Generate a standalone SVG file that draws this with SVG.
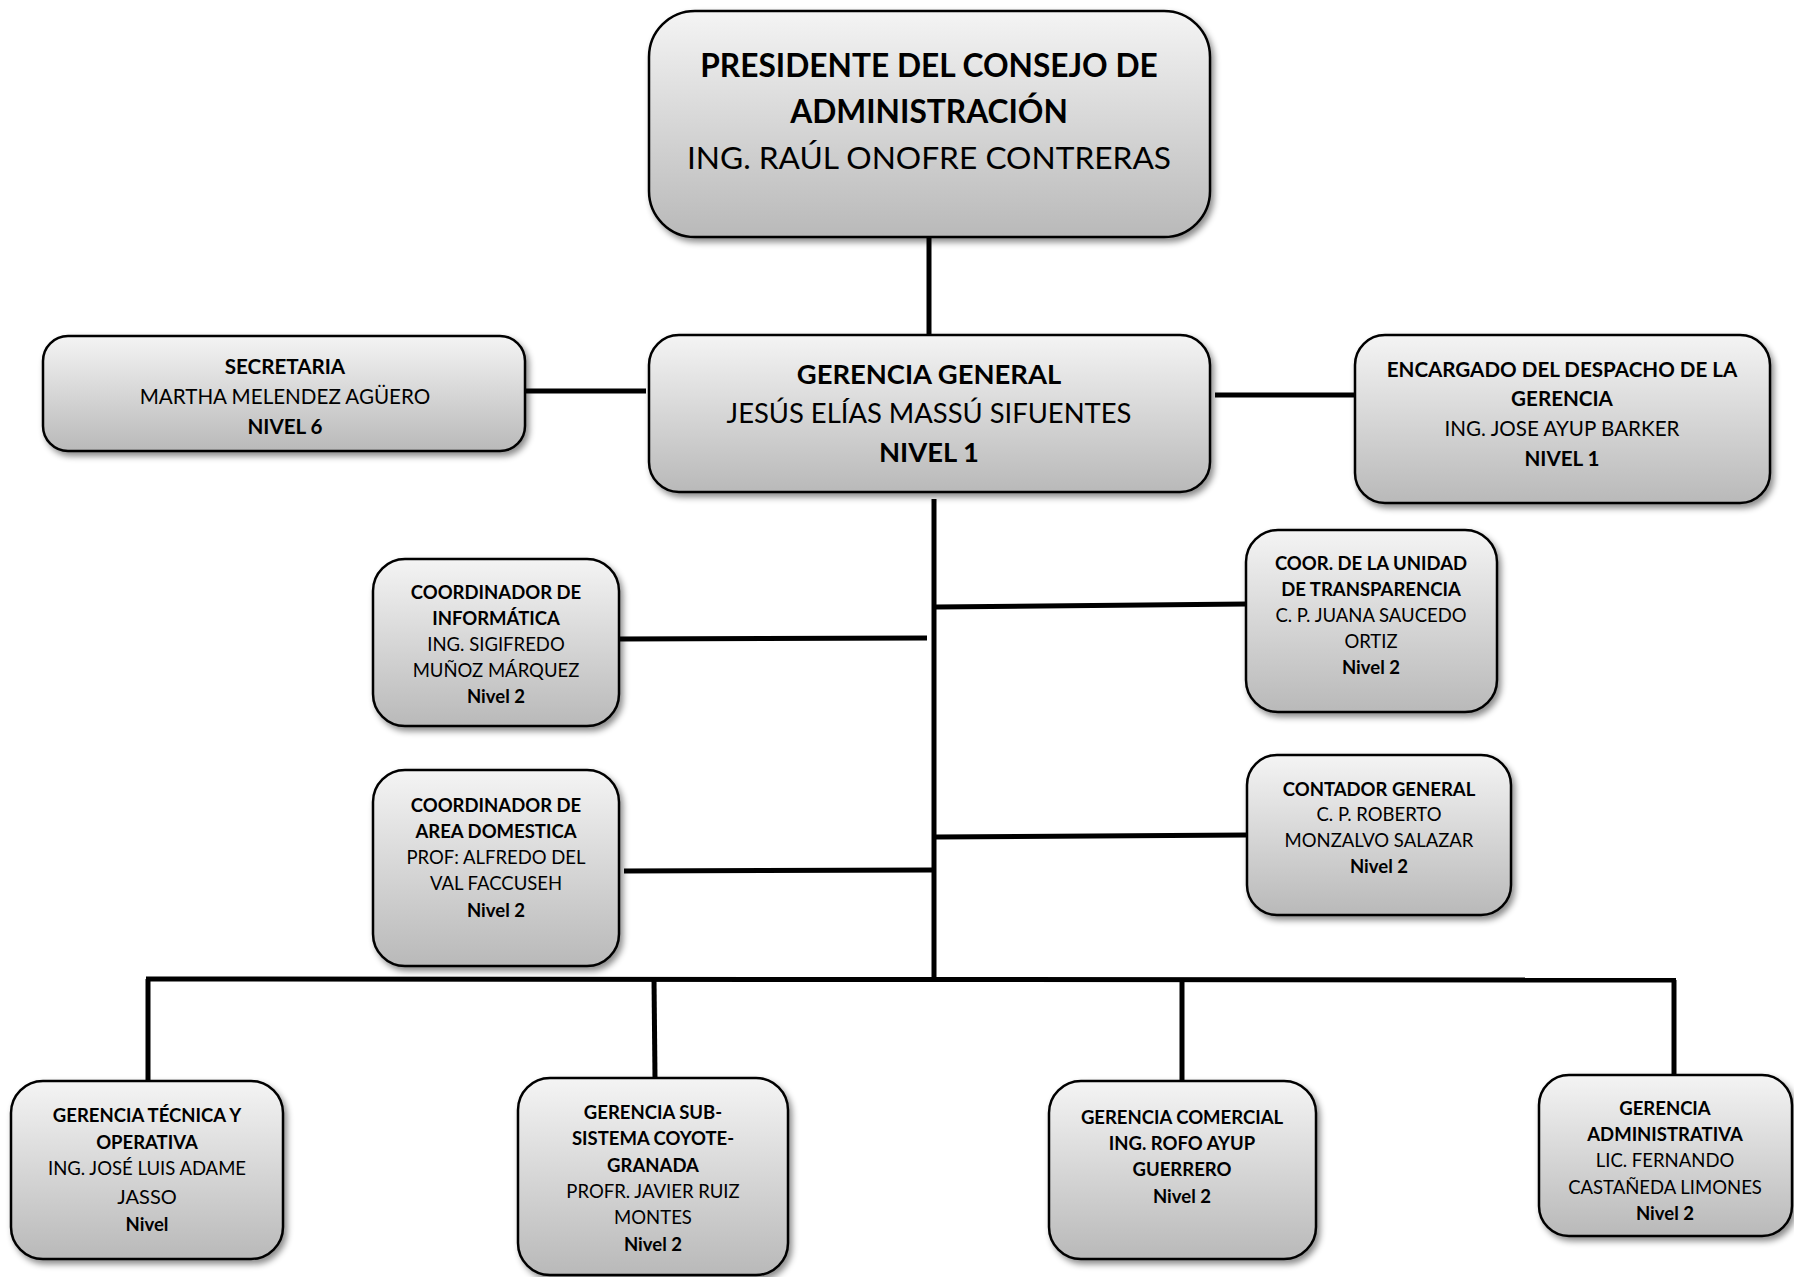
<svg xmlns="http://www.w3.org/2000/svg" width="1794" height="1277" viewBox="0 0 1794 1277">
<style>
.box{fill:url(#g);stroke:#000;stroke-width:2.5;filter:url(#sh)}
text{font-family:Lato,"Liberation Sans",sans-serif;fill:#000;text-anchor:middle}
.b{font-weight:bold}
.p{font-size:31.7px}
.m{font-size:27.4px}
.s{font-size:20.6px}
.t{font-size:18.5px}
.c line{stroke:#000;stroke-width:5;stroke-linecap:butt}
</style>
<defs>
<linearGradient id="g" x1="0" y1="0" x2="0" y2="1">
<stop offset="0" stop-color="#f4f4f4"/>
<stop offset="1" stop-color="#b9b9b9"/>
</linearGradient>
<filter id="sh" x="-10%" y="-10%" width="125%" height="130%">
<feDropShadow dx="3" dy="4" stdDeviation="3" flood-color="#000" flood-opacity="0.45"/>
</filter>
</defs>
<rect width="1794" height="1277" fill="#fff"/>
<g class="c" id="connectors">
<line x1="929" y1="237" x2="929" y2="334"/>
<line x1="525" y1="391" x2="646" y2="391"/>
<line x1="1215" y1="395" x2="1357" y2="395"/>
<line x1="934" y1="499" x2="934" y2="982"/>
<line x1="619" y1="639" x2="927" y2="638"/>
<line x1="936" y1="607" x2="1247" y2="604"/>
<line x1="624" y1="871" x2="932" y2="870"/>
<line x1="936" y1="837" x2="1247" y2="835"/>
<line x1="146" y1="979" x2="1676" y2="980"/>
<line x1="148" y1="979" x2="148" y2="1081"/>
<line x1="654" y1="979" x2="655" y2="1078"/>
<line x1="1182" y1="979" x2="1182" y2="1081"/>
<line x1="1674" y1="980" x2="1674" y2="1075"/>
</g>
<g id="presidente">
<rect class="box" x="649" y="11" width="561" height="226" rx="46"/>
<text class="p b" x="929" y="77">PRESIDENTE DEL CONSEJO DE</text>
<text class="p b" x="929" y="123">ADMINISTRACIÓN</text>
<text class="p" x="929" y="169">ING. RAÚL ONOFRE CONTRERAS</text>
</g>
<g id="gerencia-general">
<rect class="box" x="649" y="335" width="561" height="157" rx="30"/>
<text class="m b" x="929" y="384">GERENCIA GENERAL</text>
<text class="m" x="929" y="423">JESÚS ELÍAS MASSÚ SIFUENTES</text>
<text class="m b" x="929" y="462">NIVEL 1</text>
</g>
<g id="secretaria">
<rect class="box" x="43" y="336" width="482" height="115" rx="25"/>
<text class="s b" x="285" y="374">SECRETARIA</text>
<text class="s" x="285" y="404">MARTHA MELENDEZ AGÜERO</text>
<text class="s b" x="285" y="434">NIVEL 6</text>
</g>
<g id="encargado">
<rect class="box" x="1355" y="335" width="415" height="168" rx="30"/>
<text class="s b" x="1562" y="377">ENCARGADO DEL DESPACHO DE LA</text>
<text class="s b" x="1562" y="406">GERENCIA</text>
<text class="s" x="1562" y="436">ING. JOSE AYUP BARKER</text>
<text class="s b" x="1562" y="466">NIVEL 1</text>
</g>
<g id="coord-informatica">
<rect class="box" x="373" y="559" width="246" height="167" rx="32"/>
<text class="t b" x="496" y="599">COORDINADOR DE</text>
<text class="t b" x="496" y="625">INFORMÁTICA</text>
<text class="t" x="496" y="651">ING. SIGIFREDO</text>
<text class="t" x="496" y="677">MUÑOZ MÁRQUEZ</text>
<text class="t b" x="496" y="703">Nivel 2</text>
</g>
<g id="coord-transparencia">
<rect class="box" x="1246" y="530" width="251" height="182" rx="32"/>
<text class="t b" x="1371" y="570">COOR. DE LA UNIDAD</text>
<text class="t b" x="1371" y="596">DE TRANSPARENCIA</text>
<text class="t" x="1371" y="622">C. P. JUANA SAUCEDO</text>
<text class="t" x="1371" y="648">ORTIZ</text>
<text class="t b" x="1371" y="674">Nivel 2</text>
</g>
<g id="coord-domestica">
<rect class="box" x="373" y="770" width="246" height="196" rx="32"/>
<text class="t b" x="496" y="812">COORDINADOR DE</text>
<text class="t b" x="496" y="838">AREA DOMESTICA</text>
<text class="t" x="496" y="864">PROF: ALFREDO DEL</text>
<text class="t" x="496" y="890">VAL FACCUSEH</text>
<text class="t b" x="496" y="917">Nivel 2</text>
</g>
<g id="contador">
<rect class="box" x="1247" y="755" width="264" height="160" rx="30"/>
<text class="t b" x="1379" y="796">CONTADOR GENERAL</text>
<text class="t" x="1379" y="821">C. P. ROBERTO</text>
<text class="t" x="1379" y="847">MONZALVO SALAZAR</text>
<text class="t b" x="1379" y="873">Nivel 2</text>
</g>
<g id="gerencia-tecnica">
<rect class="box" x="11" y="1081" width="272" height="178" rx="32"/>
<text class="t b" x="147" y="1122">GERENCIA TÉCNICA Y</text>
<text class="t b" x="147" y="1149">OPERATIVA</text>
<text class="t" x="147" y="1175">ING. JOSÉ LUIS ADAME</text>
<text class="t" x="147" y="1204" style="font-size:20px">JASSO</text>
<text class="t b" x="147" y="1231">Nivel</text>
</g>
<g id="gerencia-subsistema">
<rect class="box" x="518" y="1078" width="270" height="197" rx="32"/>
<text class="t b" x="653" y="1119">GERENCIA SUB-</text>
<text class="t b" x="653" y="1145">SISTEMA COYOTE-</text>
<text class="t b" x="653" y="1172">GRANADA</text>
<text class="t" x="653" y="1198">PROFR. JAVIER RUIZ</text>
<text class="t" x="653" y="1224">MONTES</text>
<text class="t b" x="653" y="1251">Nivel 2</text>
</g>
<g id="gerencia-comercial">
<rect class="box" x="1049" y="1081" width="267" height="178" rx="32"/>
<text class="t b" x="1182" y="1124">GERENCIA COMERCIAL</text>
<text class="t b" x="1182" y="1150">ING. ROFO AYUP</text>
<text class="t b" x="1182" y="1176">GUERRERO</text>
<text class="t b" x="1182" y="1203">Nivel 2</text>
</g>
<g id="gerencia-administrativa">
<rect class="box" x="1539" y="1075" width="253" height="161" rx="30"/>
<text class="t b" x="1665" y="1115">GERENCIA</text>
<text class="t b" x="1665" y="1141">ADMINISTRATIVA</text>
<text class="t" x="1665" y="1167">LIC. FERNANDO</text>
<text class="t" x="1665" y="1194">CASTAÑEDA LIMONES</text>
<text class="t b" x="1665" y="1220">Nivel 2</text>
</g>
</svg>
